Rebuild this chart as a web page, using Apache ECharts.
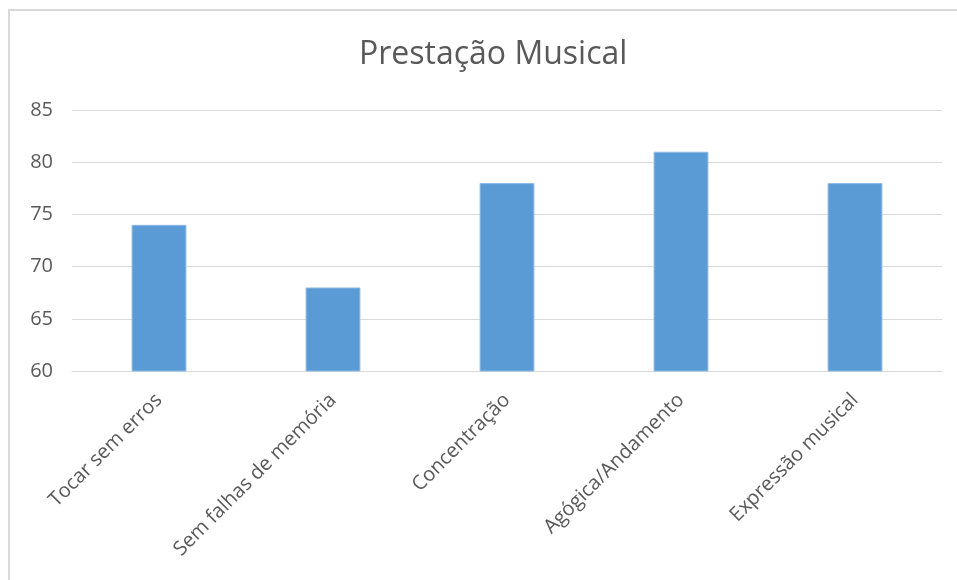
<!DOCTYPE html>
<html><head><meta charset="utf-8">
<script src="https://cdn.jsdelivr.net/npm/echarts@6/dist/echarts.min.js"></script>
<style>html,body{margin:0;padding:0;background:#fff}#c{width:957px;height:580px}</style>
</head><body><div id="c"></div>
<script>
const title = 'Prestação Musical';
const categories = ['Tocar sem erros','Sem falhas de memória','Concentração','Agógica/Andamento','Expressão musical'];
const values = [74, 68, 78, 81, 78];
const yTicks = {min: 60, max: 85, interval: 5};

const chart = echarts.init(document.getElementById('c'), null, {renderer:'canvas'});
const font = '"Open Sans", sans-serif';
chart.setOption({
  animation: false,
  backgroundColor: '#fff',
  graphic: [{type:'rect', shape:{x:9, y:10, width:2000, height:2000}, style:{fill:'none', stroke:'#D9D9D9', lineWidth:2}, silent:true, z:-1}],
  title: {text: title, left: 354, top: 34, textStyle:{fontFamily:font, fontSize:32, fontWeight:'normal', color:'#595959'}},
  grid: {left: 72, right: 15, top: 110, bottom: 209, containLabel:false},
  xAxis: {type:'category', data: categories,
    axisLine:{show:true, lineStyle:{color:'#D9D9D9', width:1}},
    axisTick:{show:false},
    axisLabel:{rotate:45, interval:0, margin:26, fontFamily:font, fontSize:20, color:'#595959'}},
  yAxis: {type:'value', min:yTicks.min, max:yTicks.max, interval:yTicks.interval,
    axisLine:{show:false}, axisTick:{show:false},
    splitLine:{lineStyle:{color:'#D9D9D9', width:1}},
    axisLabel:{margin:19, fontFamily:font, fontSize:20, color:'#595959'}},
  series: [{type:'bar', data: values, barWidth:'31.5%',
    itemStyle:{color:'#5B9BD5', borderColor:'#8DB9E3', borderWidth:1}}]
});
</script></body></html>
